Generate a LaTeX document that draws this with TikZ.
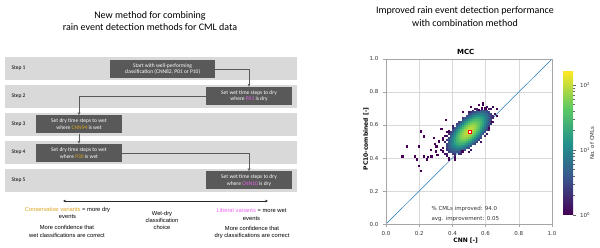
\documentclass[tikz,border=0pt]{standalone}
\usepackage{fontspec}
\setmainfont{Carlito}
\newfontfamily\arialfont{Liberation Sans}
\newfontfamily\plotfont{DejaVu Sans}
\usepackage{tikz}
\usetikzlibrary{arrows.meta,calc}

\definecolor{bandgray}{RGB}{217,217,217}
\definecolor{boxgray}{RGB}{89,89,89}
\definecolor{consgold}{RGB}{218,165,32}
\definecolor{libpink}{RGB}{238,100,238}
\definecolor{mplblue}{HTML}{1F77B4}
\definecolor{vir0}{HTML}{440154}
\definecolor{vir1}{HTML}{3B528B}
\definecolor{vir2}{HTML}{21918C}
\definecolor{vir3}{HTML}{5EC962}
\definecolor{vir4}{HTML}{FDE725}
\pgfdeclareverticalshading{viridisbar}{100bp}{color(0bp)=(vir0); color(25bp)=(vir0); color(37.5bp)=(vir1); color(50bp)=(vir2); color(62.5bp)=(vir3); color(75bp)=(vir4); color(100bp)=(vir4)}

\tikzset{
  titletxt/.style={font=\fontsize{10}{12.5}\selectfont, align=center},
  band/.style={fill=bandgray},
  steplbl/.style={font=\fontsize{5.5}{6.5}\selectfont, anchor=west},
  stepbox/.style={fill=boxgray, text=white, font=\fontsize{5.5}{6.8}\selectfont, align=center, minimum height=18pt, inner sep=0pt},
  link/.style={draw=boxgray, line width=0.7pt, -{Stealth[length=3.2pt,width=2.6pt]}},
  note/.style={font=\arialfont\fontsize{5.8}{7.4}\selectfont, align=center},
  plottxt/.style={font=\plotfont\fontsize{5.5}{6.5}\selectfont, text=black!80},
  gridline/.style={draw=black!15, line width=0.4pt},
  spine/.style={draw=black!35, line width=0.9pt},
}

\begin{document}
\begin{tikzpicture}[x=1pt,y=-1pt]
\useasboundingbox (0,0) rectangle (600,248);
% left panel
\node[titletxt] (lefttitle) at (150,21) {New method for combining\\rain event detection methods for CML data};
\foreach \y [count=\k] in {57,85,113,141,169}{
  \fill[band] (5,\y) rectangle (297,\y+23);
  \node[steplbl] (step\k) at (8,\y+11.5) {Step \k};
}
\node[stepbox, minimum width=105pt] (box1) at (162.5,69) {Start with well-performing\\classification (CNN82, P01 or P10)};
\node[stepbox, minimum width=86pt] (box2) at (249,96) {Set wet time steps to dry\\where \textcolor{libpink}{P01} is dry};
\node[stepbox, minimum width=86pt] (box3) at (79,124.5) {Set dry time steps to wet\\where \textcolor{consgold}{CNN94} is wet};
\node[stepbox, minimum width=86pt] (box4) at (79,153) {Set dry time steps to wet\\where \textcolor{consgold}{P30} is wet};
\node[stepbox, minimum width=86pt] (box5) at (249,180.5) {Set wet time steps to dry\\where \textcolor{libpink}{CNN10} is dry};
\draw[link] (box1.east) -| (box2.north);
\draw[link] (box2.west) -| (box3.north);
\draw[link] (box3) -- (box4);
\draw[link] (box4.east) -| (box5.north);
\coordinate (dryend) at (63,201);
\coordinate (wetend) at (268,201);
\draw[line width=0.9pt, black!85, {Stealth[length=3pt,width=2.6pt]}-{Stealth[length=3pt,width=2.6pt]}] (dryend) -- (wetend);
\node[note] (consv) at (67.5,213) {\textcolor{consgold}{Conservative variants} = more dry\\events};
\node[note] (consconf) at (67,231.5) {More confidence that\\wet classifications are correct};
\node[note] (choice) at (162,220.5) {Wet-dry\\classification\\choice};
\node[note] (libv) at (251.5,214.5) {\textcolor{libpink}{Liberal variants} = more wet\\events};
\node[note] (libconf) at (252,232.5) {More confidence that\\dry classifications are correct};
% right panel
\node[titletxt] (righttitle) at (465,16.5) {Improved rain event detection performance\\with combination method};
\begin{scope}[shift={(386,224)}, x=166pt, y=165pt]
  \foreach \v in {0.2,0.4,0.6,0.8}{
    \draw[gridline] (\v,0) -- (\v,1);
    \draw[gridline] (0,\v) -- (1,\v);
  }
  \draw[mplblue, line width=0.5pt] (0,0) -- (1,1);
  \pgfmathsetseed{11}
  \foreach \i in {0,...,38}{
    \foreach \j in {0,...,35}{
      \pgfmathsetmacro\cx{0.26+0.012*\i}
      \pgfmathsetmacro\cy{0.34+0.012*\j}
      \pgfmathsetmacro\du{70.71*(\cx+\cy-1.06)}
      \pgfmathsetmacro\dv{70.71*(\cy-\cx-0.06)}
      \pgfmathsetmacro\qa{min(\du*\du/30+\dv*\dv/6.25,14)}
      \pgfmathsetmacro\qb{min(\du*\du/81+\dv*\dv/20,14)}
      \pgfmathsetmacro\cnt{90*exp(-0.5*\qa)+12*exp(-0.5*\qb)}
      \pgfmathtruncatemacro\keep{\cnt>0.5+3*rnd}
      \ifnum\keep=1
        \pgfmathsetmacro\t{min(ln(max(\cnt,1))/5.06,0.999)}
        \pgfmathtruncatemacro\seg{4*\t}
        \pgfmathtruncatemacro\pc{100*(4*\t-\seg)}
        \pgfmathtruncatemacro\nxt{\seg+1}
        \fill[vir\nxt!\pc!vir\seg] (\cx-0.006,\cy-0.006) rectangle +(0.012,0.012);
      \fi
    }
  }
  \foreach \px/\py in {0.10/0.41,0.126/0.47,0.20/0.47,0.21/0.56,0.23/0.53,0.21/0.32,0.20/0.35,0.175/0.41,0.185/0.39,0.23/0.41,0.255/0.405,0.275/0.41,0.245/0.39,0.36/0.63,0.295/0.485,0.305/0.47,0.335/0.575,0.38/0.56,0.345/0.44,0.46/0.44,0.27/0.45,0.31/0.42,0.32/0.5,0.29/0.52,0.30/0.44,0.62/0.58,0.64/0.62,0.56/0.69,0.58/0.70,0.60/0.70}
    \fill[vir0] (\px-0.007,\py-0.007) rectangle +(0.014,0.014);
  \node[draw=red, fill=white, line width=0.6pt, minimum size=3pt, inner sep=0pt] (bestmark) at (0.506,0.557) {};
  \draw[spine] (0,0) rectangle (1,1);
  \foreach \v [count=\n] in {0.0,0.2,0.4,0.6,0.8,1.0}{
    \draw[spine, line width=0.5pt] (\v,0) -- ++(0,-3pt);
    \draw[spine, line width=0.5pt] (0,\v) -- ++(-3pt,0);
    \node[plottxt, anchor=north] (xtl\n) at (\v,-0.025) {\v};
    \node[plottxt, anchor=east] (ytl\n) at (-0.025,\v) {\v};
  }
  \node[font=\plotfont\bfseries\fontsize{7}{8}\selectfont] (mcctitle) at (0.48,1.042) {MCC};
  \node[plottxt, text=black, font=\plotfont\bfseries\fontsize{6}{7}\selectfont] (xlbl) at (0.48,-0.103) {CNN [-]};
  \node[plottxt, text=black, font=\plotfont\bfseries\fontsize{6}{7}\selectfont, rotate=90] (ylbl) at (-0.12,0.515) {PC10-combined [-]};
  \node[plottxt, anchor=west] (stat1) at (0.253,0.091) {\% CMLs improved: 94.0};
  \node[plottxt, anchor=west] (stat2) at (0.253,0.03) {avg. improvement: 0.05};
\end{scope}
\shade[shading=viridisbar] (563,72) rectangle (573,215);
\foreach \d [count=\n] in {0,1,2}{
  \draw[black!60, line width=0.4pt] (573,215-65*\d) -- ++(3,0);
  \node[plottxt, anchor=west] (cbt\n) at (576.5,215-65*\d) {10\textsuperscript{\d}};
}
\foreach \d in {0,1}
  \foreach \k in {2,...,9}
    \draw[black!60, line width=0.3pt] (573,{215-65*(\d+log10(\k))}) -- ++(1.6,0);
\node[plottxt, rotate=90] (cblabel) at (592,143) {No. of CMLs};
\end{tikzpicture}
\end{document}
